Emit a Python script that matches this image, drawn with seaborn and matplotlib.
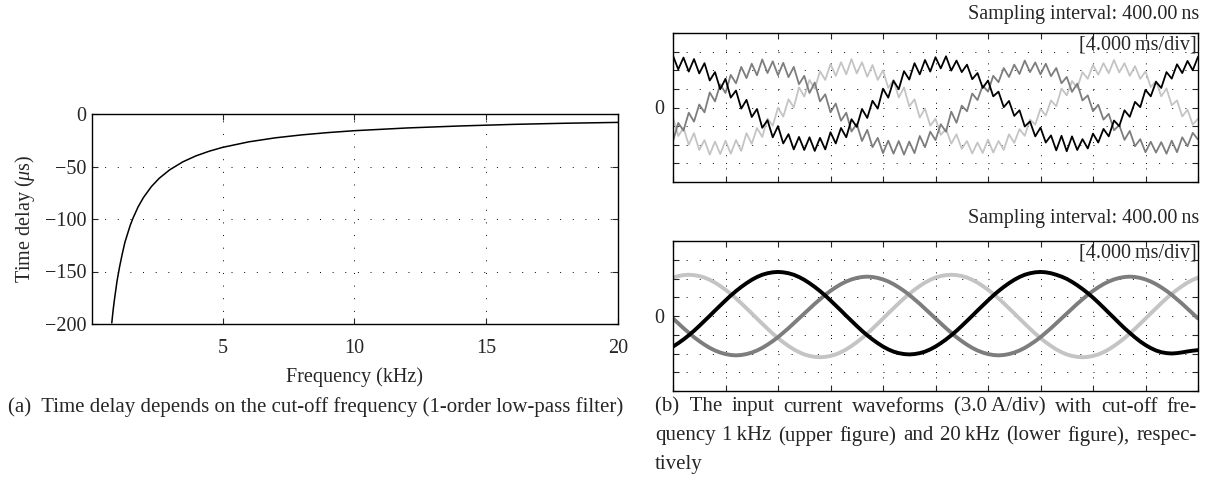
import numpy as np
import pandas as pd
import matplotlib.pyplot as plt
import seaborn as sns

# Left panel: time delay of the 1-order low-pass filter
freq_khz = [0.80, 0.85, 0.90, 0.95, 1.0, 1.1, 1.2, 1.3, 1.4, 1.5, 1.6, 1.8, 2.0,
            2.3, 2.6, 3.0, 3.5, 4.0, 4.5, 5.0, 6.0, 7.0, 8.0, 9.0, 10.0,
            12.0, 14.0, 16.0, 18.0, 20.0]
delay_us = [-199.0, -187.0, -177.0, -168.0, -159.0, -145.0, -133.0, -122.0, -114.0,
            -106.0, -99.5, -88.4, -79.6, -69.2, -61.2, -53.1, -45.5, -39.8, -35.4,
            -31.8, -26.5, -22.7, -19.9, -17.7, -15.9, -13.3, -11.4, -9.9, -8.8, -8.0]

# Right panels: scope traces in divisions, one sample every 0.4 ms (10 per div)
sample_step_ms = 0.4
time_ms = np.arange(101) * sample_step_ms

# upper figure: cut-off 1 kHz
up_black = [2.78, 2.05, 2.68, 1.93, 2.60, 1.83, 2.38, 1.45, 1.90, 0.98,
            1.54, 0.53, 0.91, -0.06, 0.41, -0.51, -0.08, -1.09, -0.68, -1.60,
            -1.00, -1.93, -1.43, -2.25, -1.58, -2.28, -1.60, -2.33, -1.63, -2.25,
            -1.33, -1.93, -1.10, -1.60, -0.63, -1.04, -0.08, -0.56, 0.36, -0.06,
            1.01, 0.53, 1.44, 0.98, 1.95, 1.50, 2.38, 1.78, 2.55, 1.93,
            2.70, 2.10, 2.75, 1.98, 2.52, 1.90, 2.30, 1.52, 1.85, 1.05,
            1.45, 0.60, 0.85, 0.02, 0.35, -0.45, -0.15, -1.02, -0.75, -1.55,
            -1.08, -1.88, -1.50, -2.30, -1.52, -2.35, -1.55, -2.28, -1.70, -2.20,
            -1.40, -1.88, -1.15, -1.55, -0.70, -1.00, -0.15, -0.50, 0.30, 0.02,
            0.95, 0.60, 1.38, 1.05, 1.90, 1.55, 2.32, 1.85, 2.50, 2.00,
            2.72]
up_dark = [-1.80, -0.83, -1.24, -0.28, -0.76, 0.16, -0.26, 0.81, 0.33, 1.24,
           0.78, 1.75, 1.30, 2.18, 1.58, 2.35, 1.73, 2.58, 1.85, 2.48,
           1.73, 2.40, 1.63, 2.18, 1.25, 1.70, 0.78, 1.34, 0.33, 0.71,
           -0.26, 0.21, -0.71, -0.28, -1.29, -0.88, -1.80, -1.20, -2.13, -1.63,
           -2.45, -1.78, -2.48, -1.80, -2.53, -1.83, -2.45, -1.53, -2.13, -1.30,
           -1.75, -0.90, -1.30, -0.22, -0.82, 0.10, -0.20, 0.75, 0.40, 1.18,
           0.85, 1.70, 1.36, 2.12, 1.64, 2.30, 1.80, 2.52, 1.90, 2.42,
           1.78, 2.35, 1.68, 2.12, 1.30, 1.64, 0.84, 1.28, 0.38, 0.65,
           -0.20, 0.15, -0.65, -0.34, -1.22, -0.95, -1.74, -1.26, -2.08, -1.70,
           -2.40, -1.84, -2.42, -1.86, -2.48, -1.78, -2.40, -1.60, -2.08, -1.36,
           -1.72]
up_light = [-0.54, -1.53, -1.10, -2.00, -1.38, -2.28, -1.75, -2.53, -1.83, -2.50,
            -1.78, -2.48, -1.75, -2.33, -1.38, -1.95, -1.10, -1.58, -0.59, -0.98,
            -0.01, -0.49, 0.44, 0.01, 1.08, 0.59, 1.48, 1.00, 1.95, 1.48,
            2.33, 1.70, 2.43, 1.78, 2.60, 1.83, 2.43, 1.65, 2.28, 1.48,
            2.00, 1.05, 1.48, 0.54, 1.08, 0.06, 0.44, -0.54, -0.06, -0.98,
            -0.60, -1.47, -1.16, -1.94, -1.44, -2.22, -1.80, -2.47, -1.88, -2.44,
            -1.72, -2.42, -1.80, -2.27, -1.44, -1.90, -1.16, -1.52, -0.65, -0.92,
            -0.07, -0.43, 0.38, 0.07, 1.02, 0.65, 1.42, 1.06, 1.90, 1.54,
            2.28, 1.76, 2.38, 1.84, 2.55, 1.88, 2.38, 1.70, 2.22, 1.54,
            1.94, 1.10, 1.42, 0.60, 1.02, 0.12, 0.38, -0.48, -0.12, -0.92,
            -0.60]

# lower figure: cut-off 20 kHz
lo_black = [-1.63, -1.45, -1.25, -1.03, -0.79, -0.53, -0.26, 0.01, 0.29, 0.56,
            0.83, 1.09, 1.33, 1.55, 1.75, 1.93, 2.08, 2.20, 2.28, 2.33,
            2.35, 2.33, 2.28, 2.20, 2.08, 1.93, 1.75, 1.55, 1.33, 1.09,
            0.83, 0.56, 0.29, 0.01, -0.26, -0.53, -0.79, -1.03, -1.25, -1.45,
            -1.63, -1.78, -1.90, -1.98, -2.03, -2.05, -2.03, -1.98, -1.90, -1.78,
            -1.63, -1.45, -1.25, -1.03, -0.79, -0.53, -0.26, 0.01, 0.29, 0.56,
            0.83, 1.09, 1.33, 1.55, 1.75, 1.93, 2.08, 2.20, 2.28, 2.33,
            2.35, 2.33, 2.28, 2.20, 2.10, 1.98, 1.82, 1.64, 1.44, 1.22,
            0.98, 0.72, 0.45, 0.17, -0.10, -0.38, -0.65, -0.90, -1.14, -1.36,
            -1.55, -1.71, -1.84, -1.93, -1.98, -2.00, -1.98, -1.94, -1.89, -1.85,
            -1.82]
lo_dark = [-0.13, -0.39, -0.65, -0.89, -1.13, -1.34, -1.53, -1.70, -1.84, -1.95,
           -2.03, -2.08, -2.10, -2.08, -2.03, -1.95, -1.84, -1.70, -1.53, -1.34,
           -1.13, -0.89, -0.65, -0.39, -0.13, 0.13, 0.39, 0.65, 0.89, 1.13,
           1.34, 1.53, 1.70, 1.84, 1.95, 2.03, 2.08, 2.10, 2.08, 2.03,
           1.95, 1.84, 1.70, 1.53, 1.34, 1.13, 0.89, 0.65, 0.39, 0.13,
           -0.13, -0.39, -0.65, -0.89, -1.13, -1.34, -1.53, -1.70, -1.84, -1.95,
           -2.03, -2.08, -2.10, -2.08, -2.03, -1.95, -1.84, -1.70, -1.53, -1.34,
           -1.13, -0.89, -0.65, -0.39, -0.13, 0.13, 0.39, 0.65, 0.89, 1.13,
           1.34, 1.53, 1.70, 1.84, 1.95, 2.03, 2.08, 2.10, 2.08, 2.03,
           1.95, 1.84, 1.70, 1.53, 1.34, 1.13, 0.89, 0.65, 0.39, 0.13,
           -0.13]
lo_light = [2.05, 2.13, 2.18, 2.20, 2.18, 2.13, 2.05, 1.93, 1.78, 1.60,
            1.40, 1.18, 0.94, 0.68, 0.41, 0.14, -0.14, -0.41, -0.68, -0.94,
            -1.18, -1.40, -1.60, -1.78, -1.93, -2.05, -2.13, -2.18, -2.20, -2.18,
            -2.13, -2.05, -1.93, -1.78, -1.60, -1.40, -1.18, -0.94, -0.68, -0.41,
            -0.14, 0.14, 0.41, 0.68, 0.94, 1.18, 1.40, 1.60, 1.78, 1.93,
            2.05, 2.13, 2.18, 2.20, 2.18, 2.13, 2.05, 1.93, 1.78, 1.60,
            1.40, 1.18, 0.94, 0.68, 0.41, 0.14, -0.14, -0.41, -0.68, -0.94,
            -1.18, -1.40, -1.60, -1.78, -1.93, -2.05, -2.13, -2.18, -2.20, -2.18,
            -2.13, -2.05, -1.93, -1.78, -1.60, -1.40, -1.18, -0.94, -0.68, -0.41,
            -0.14, 0.14, 0.41, 0.68, 0.94, 1.18, 1.40, 1.60, 1.78, 1.93,
            2.05]

sns.set_style("ticks")
plt.rcParams['font.family'] = ['Liberation Serif', 'DejaVu Serif']
plt.rcParams['mathtext.fontset'] = 'custom'
plt.rcParams['mathtext.rm'] = 'Liberation Serif'
plt.rcParams['mathtext.it'] = 'Liberation Serif:italic'

FS = 14.5
W, H = 1205, 483
fig = plt.figure(figsize=(W / 100, H / 100), dpi=100)


def box(x0, y0, x1, y1):
    return [x0 / W, 1 - y1 / H, (x1 - x0) / W, (y1 - y0) / H]


# Plot (a): time delay vs cut-off frequency
ax = fig.add_axes(box(92, 114, 618, 324))
sns.lineplot(x=freq_khz, y=delay_us, color='black', linewidth=1.1, ax=ax)
ax.set_xlim(0.05, 20)
ax.set_ylim(-200, 0)
ax.set_xticks([5, 10, 15, 20])
ax.set_yticks([0, -50, -100, -150, -200])
ax.grid(True, color='black', linestyle=(0, (1, 12)), linewidth=0.7)
ax.tick_params(direction='in', top=True, right=True, length=4, width=0.8,
               labelsize=FS)
ax.tick_params(axis='x', pad=10.5)
ax.tick_params(axis='y', pad=4)
for s in ax.spines.values():
    s.set_linewidth(1.0)
    s.set_color('black')
ax.set_xlabel('Frequency (kHz)', fontsize=FS, labelpad=7)
ax.set_ylabel(r'Time delay ($\mu$s)', fontsize=FS, labelpad=6)

# Plot (b): scope traces
palette = {'black': 'black', 'dark': '#7d7d7d', 'light': '#c4c4c4'}


def scope(rect, black, dark, light, lw):
    a = fig.add_axes(rect)
    df = pd.DataFrame({
        'time': np.tile(time_ms, 3),
        'value': light + dark + black,
        'phase': ['light'] * 101 + ['dark'] * 101 + ['black'] * 101,
    })
    sns.lineplot(data=df, x='time', y='value', hue='phase', palette=palette,
                 hue_order=['light', 'dark', 'black'], estimator=None, sort=False,
                 linewidth=lw, legend=False, ax=a)
    a.set_xlim(0, 40)
    a.set_ylim(-4, 4)
    a.set_xticks(np.arange(0, 41, 4))
    a.set_xticklabels([])
    a.set_yticks(np.arange(-4, 5, 1))
    a.set_yticklabels(['0' if v == 0 else '' for v in range(-4, 5)])
    a.grid(True, color='black', linestyle=(0, (1, 12.5)), linewidth=0.7)
    a.tick_params(direction='in', top=True, right=True, length=4, width=0.8,
                  labelsize=FS, pad=6)
    for s in a.spines.values():
        s.set_linewidth(1.0)
        s.set_color('black')
    a.set_xlabel('')
    a.set_ylabel('')
    a.text(0.998, 0.985, '[4.000\u2009ms/div]', transform=a.transAxes,
           ha='right', va='top', fontsize=FS)
    return a


scope(box(673, 33, 1198, 182), up_black, up_dark, up_light, 1.3)
scope(box(673, 241, 1198, 391), lo_black, lo_dark, lo_light, 2.8)

fig.text(1199 / W, 1 - 15 / H, 'Sampling interval: 400.00\u2009ns',
         ha='right', va='center', fontsize=FS)
fig.text(1199 / W, 1 - 218 / H, 'Sampling interval: 400.00\u2009ns',
         ha='right', va='center', fontsize=FS)

# captions
CFS = 15
fig.text(8 / W, 1 - 407 / H,
         '(a)  Time delay depends on the cut-off frequency (1-order low-pass filter)',
         ha='left', va='center', fontsize=CFS)

cap_b = ['(b)  The input current waveforms (3.0\u2009A/div) with cut-off fre-',
         'quency 1\u2009kHz (upper figure) and 20\u2009kHz (lower figure), respec-',
         'tively']
renderer = fig.canvas.get_renderer()
x_left, x_right = 655, 1197
for k, line in enumerate(cap_b):
    y = 1 - (407 + 28.8 * k) / H
    if k == len(cap_b) - 1:
        fig.text(x_left / W, y, line, ha='left', va='center', fontsize=CFS)
        continue
    # justified line: spread the words over the full column width
    words = line.replace('(b)  ', '(b)\u2002').split(' ')
    texts = [fig.text(0, y, w, ha='left', va='center', fontsize=CFS) for w in words]
    widths = [t.get_window_extent(renderer).width for t in texts]
    gap = (x_right - x_left - sum(widths)) / (len(words) - 1)
    x = x_left
    for t, wd in zip(texts, widths):
        t.set_x(x / W)
        x += wd + gap

fig.savefig('out.png', dpi=100)
